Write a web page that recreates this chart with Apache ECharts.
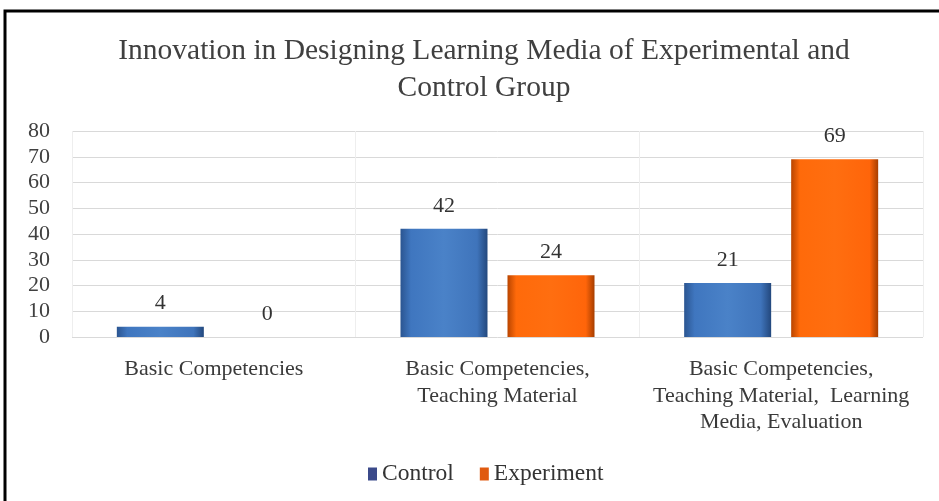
<!DOCTYPE html>
<html><head><meta charset="utf-8">
<script src="https://cdn.jsdelivr.net/npm/echarts@6/dist/echarts.min.js"></script>
<style>html,body{margin:0;padding:0;background:#fff}#c{width:939px;height:501px}</style>
</head><body><div id="c"></div>
<script>
const categories = ["Basic Competencies", "Basic Competencies,\nTeaching Material", "Basic Competencies,\nTeaching Material,  Learning\nMedia, Evaluation"];
const controlValues = [4, 42, 21];
const experimentValues = [0, 24, 69];
const yTicks = [0, 10, 20, 30, 40, 50, 60, 70, 80];
const titleText = "Innovation in Designing Learning Media of Experimental and\nControl Group";

const serif = '"Liberation Serif", "DejaVu Serif", serif';
const blueGrad = {type:'linear',x:0,y:0,x2:1,y2:0,colorStops:[{offset:0,color:'#2b5591'},{offset:0.12,color:'#3f76bf'},{offset:0.5,color:'#4a82c8'},{offset:0.88,color:'#3f74bb'},{offset:1,color:'#23487d'}]};
const orangeGrad = {type:'linear',x:0,y:0,x2:1,y2:0,colorStops:[{offset:0,color:'#b94500'},{offset:0.1,color:'#ff6a0a'},{offset:0.5,color:'#ff6e10'},{offset:0.9,color:'#ff650a'},{offset:1,color:'#a63e00'}]};

const chart = echarts.init(document.getElementById('c'));
chart.setOption({
  animation:false,
  backgroundColor:'#fff',
  graphic:[{type:'rect',shape:{x:5,y:11,width:1000,height:600},style:{fill:'none',stroke:'#000',lineWidth:3},z:100}],
  title:{text:titleText,left:479,textAlign:'center',top:28,textStyle:{fontFamily:serif,fontWeight:'normal',fontSize:29.5,color:'#404040',lineHeight:37}},
  legend:{bottom:10,left:363,itemWidth:9,itemHeight:13,itemGap:26,icon:'rect',textStyle:{fontFamily:serif,fontSize:23.5,color:'#333'},
    data:[{name:'Control',itemStyle:{color:'#3b4a8a'}},{name:'Experiment',itemStyle:{color:'#e05a10'}}]},
  grid:{left:72,right:16,top:131,bottom:164},
  xAxis:{type:'category',data:categories,axisTick:{show:false},axisLine:{show:false},
    splitLine:{show:true,lineStyle:{color:'#eeeeee'}},
    axisLabel:{fontFamily:serif,fontSize:22,color:'#3a3a3a',lineHeight:26.5,margin:19,interval:0}},
  yAxis:{type:'value',min:yTicks[0],max:yTicks[yTicks.length-1],interval:10,
    axisLine:{show:false},axisTick:{show:false},
    splitLine:{lineStyle:{color:'#d9d9d9'}},
    axisLabel:{fontFamily:serif,fontSize:22,color:'#404040',margin:22}},
  series:[
    {name:'Control',type:'bar',data:controlValues,barWidth:87,barGap:'23%',
      itemStyle:{color:blueGrad},
      label:{show:true,position:'top',distance:12,fontFamily:serif,fontSize:22,color:'#333'}},
    {name:'Experiment',type:'bar',data:experimentValues,barWidth:87,
      itemStyle:{color:orangeGrad},
      label:{show:true,position:'top',distance:12,fontFamily:serif,fontSize:22,color:'#333'}}
  ]
});
</script></body></html>
